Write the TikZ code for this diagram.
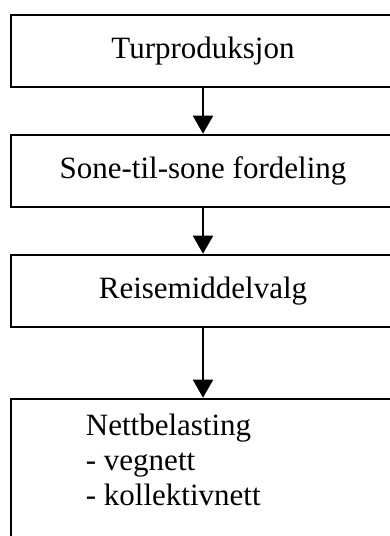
\documentclass[tikz,border=0pt]{standalone}
\usepackage{fontspec}
\setmainfont{Liberation Serif}
\usepackage{tikz}
\usetikzlibrary{positioning,arrows.meta}
\tikzset{
  stepbox/.style={
    draw,
    line width=2.6pt,
    minimum width=384pt,
    minimum height=72pt,
    inner sep=0pt,
    font=\fontsize{31}{35}\selectfont
  },
  flow/.style={
    line width=2pt,
    -{Triangle[width=20pt,length=18pt]}
  }
}

\begin{document}
\begin{tikzpicture}
      \useasboundingbox (0,0) rectangle (389pt,536pt);
      \node [stepbox] (Tur) at (203pt,485pt) {Turproduksjon};
      \node [stepbox, on grid, below=120pt of Tur] (Sone) {Sone-til-sone fordeling};
      \node [stepbox, on grid, below=120pt of Sone] (Valg) {Reisemiddelvalg};
      \node [stepbox, on grid, below=183pt of Valg, minimum height=150pt] (Nett) {};
      \node [anchor=north west, align=left, inner sep=0pt,
      font=\fontsize{31}{35}\selectfont] (NettText)
      at ([xshift=76pt,yshift=-16pt]Nett.north west)
      {Nettbelasting\\- vegnett\\- kollektivnett};

      \draw [flow] (Tur) to (Sone);
      \draw [flow] (Sone) to (Valg);
      \draw [flow] (Valg) to (Nett);
    \end{tikzpicture}
\end{document}
